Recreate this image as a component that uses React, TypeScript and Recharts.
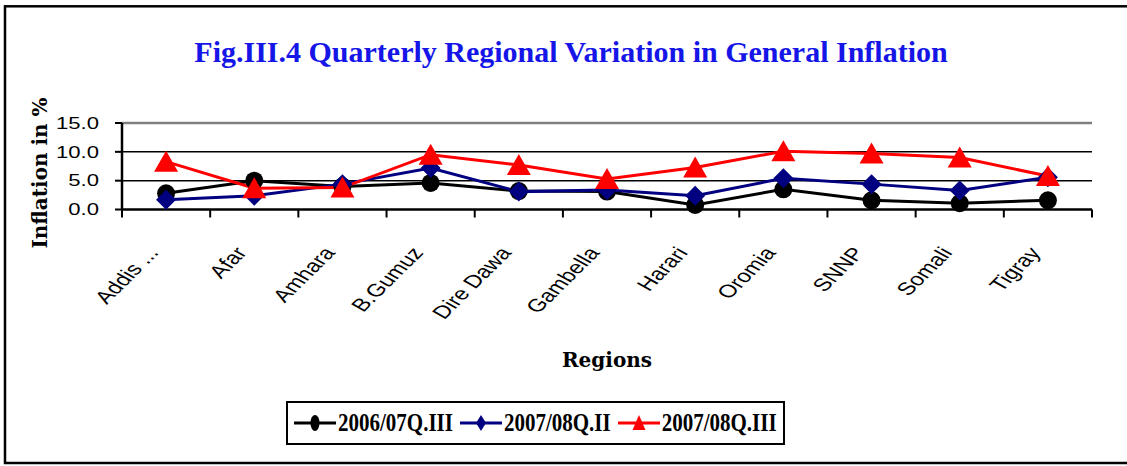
import React from 'react';
import { LineChart, Line, XAxis, YAxis, ReferenceLine, Legend, Customized } from 'recharts';

const regions = ['Addis ...', 'Afar', 'Amhara', 'B.Gumuz', 'Dire Dawa', 'Gambella', 'Harari', 'Oromia', 'SNNP', 'Somali', 'Tigray'];
const q0607III = [2.8, 5.0, 4.0, 4.6, 3.2, 3.1, 0.8, 3.5, 1.6, 1.1, 1.6];
const q0708II = [1.7, 2.4, 4.4, 7.2, 3.1, 3.4, 2.4, 5.4, 4.4, 3.3, 5.6];
const q0708III = [8.3, 3.7, 3.8, 9.5, 7.7, 5.3, 7.3, 10.1, 9.7, 9.0, 5.8];
const seriesNames = ['2006/07Q.III', '2007/08Q.II', '2007/08Q.III'];
const yTicks = [0, 5, 10, 15];
const gridValues = [5, 10];
const title = 'Fig.III.4 Quarterly Regional Variation in General Inflation';
const yLabel = 'Inflation in %';
const xLabel = 'Regions';

const data = regions.map((r, i) => ({ region: r, a: q0607III[i], b: q0708II[i], c: q0708III[i] }));

const W = 1127;
const H = 466;
const M = { top: 123, right: 35, left: 62, bottom: 106.5 };
const Y_AXIS_W = 60;
const X_AXIS_H = 150;
const PLOT_W = W - M.left - Y_AXIS_W - M.right;
const HALF_BAND = PLOT_W / regions.length / 2;

const BLACK = '#000000';
const NAVY = '#000080';
const RED = '#FF0000';

const CircleDot = (p: any) =>
  p.cx == null ? null : <circle key={`c-${p.index}`} cx={p.cx} cy={p.cy} r={9} fill={BLACK} />;
const DiamondDot = (p: any) =>
  p.cx == null ? null : (
    <polygon
      key={`d-${p.index}`}
      points={`${p.cx},${p.cy - 10} ${p.cx + 10},${p.cy} ${p.cx},${p.cy + 10} ${p.cx - 10},${p.cy}`}
      fill={NAVY}
    />
  );
const TriangleDot = (p: any) =>
  p.cx == null ? null : (
    <polygon
      key={`t-${p.index}`}
      points={`${p.cx},${p.cy - 11} ${p.cx + 12},${p.cy + 10} ${p.cx - 12},${p.cy + 10}`}
      fill={RED}
    />
  );

const YTick = (p: any) => {
  const { x, y, payload } = p;
  return (
    <text
      x={x}
      y={y}
      dy="0.36em"
      textAnchor="end"
      fontFamily="'Liberation Sans', Arial, sans-serif"
      fontSize={16}
      fill="#000"
      transform={`translate(${x} ${y}) scale(1.38 1) translate(${-x} ${-y})`}
    >
      {Number(payload.value).toFixed(1)}
    </text>
  );
};

const XTick = (p: any) => {
  const { x, y, payload, index } = p;
  return (
    <g>
      <line x1={x - HALF_BAND} x2={x - HALF_BAND} y1={y} y2={y + 8} stroke="#000" strokeWidth={2} />
      {index === regions.length - 1 && (
        <line x1={x + HALF_BAND} x2={x + HALF_BAND} y1={y} y2={y + 8} stroke="#000" strokeWidth={2} />
      )}
      <text
        transform={`translate(${x - 20} ${y + 36}) scale(1.35 1) rotate(-53)`}
        textAnchor="end"
        dy="0.7em"
        fontSize={18}
        fontFamily="'Liberation Sans', Arial, sans-serif"
        fill="#000"
      >
        {payload.value}
      </text>
    </g>
  );
};

const legendIcons = [
  (cx: number, cy: number) => <ellipse cx={cx} cy={cy} rx={4.5} ry={8} fill={BLACK} />,
  (cx: number, cy: number) => (
    <polygon points={`${cx},${cy - 8} ${cx + 5},${cy} ${cx},${cy + 8} ${cx - 5},${cy}`} fill={NAVY} />
  ),
  (cx: number, cy: number) => (
    <polygon points={`${cx},${cy - 8} ${cx + 6.5},${cy + 7} ${cx - 6.5},${cy + 7}`} fill={RED} />
  ),
];

const LegendContent = (props: any) => {
  const payload = props.payload || [];
  return (
    <div
      style={{
        border: '2px solid #000',
        height: 40,
        display: 'flex',
        alignItems: 'center',
        padding: '0 6px',
        boxSizing: 'content-box',
        background: '#fff',
      }}
    >
      {payload.map((item: any, i: number) => (
        <div key={`leg-${i}`} style={{ display: 'flex', alignItems: 'center', marginRight: i < payload.length - 1 ? 7 : 0 }}>
          <svg width={42} height={20} style={{ marginRight: 2 }}>
            <line x1={0} x2={42} y1={10} y2={10} stroke={item.color} strokeWidth={3} />
            {legendIcons[i % legendIcons.length](21, 10)}
          </svg>
          <span
            style={{
              fontFamily: "'Liberation Serif', 'Times New Roman', serif",
              fontWeight: 'bold',
              fontSize: 21,
              color: '#000',
              whiteSpace: 'nowrap',
              display: 'inline-block',
              transform: 'scale(1, 1.2)',
            }}
          >
            {item.value}
          </span>
        </div>
      ))}
    </div>
  );
};

const Overlay = () => (
  <g>
    <rect x={5} y={6.3} width={1140} height={456.7} fill="none" stroke="#000" strokeWidth={2.5} />
    <text
      x={571}
      y={62}
      textAnchor="middle"
      fontFamily="'Liberation Serif', 'Times New Roman', serif"
      fontWeight="bold"
      fontSize={30}
      fill="#1515e8"
    >
      {title}
    </text>
    <text
      transform="translate(47 173) rotate(-90)"
      textAnchor="middle"
      fontFamily="'DejaVu Serif', serif"
      fontWeight="bold"
      fontSize={20}
      fill="#000"
    >
      {yLabel}
    </text>
    <text
      x={607}
      y={367}
      textAnchor="middle"
      fontFamily="'DejaVu Serif', serif"
      fontWeight="bold"
      fontSize={20}
      fill="#000"
    >
      {xLabel}
    </text>
  </g>
);

export default function App() {
  return (
    <div style={{ position: 'absolute', left: 0, top: 0, width: W, height: H, background: '#fff' }}>
      <LineChart width={W} height={H} data={data} margin={M}>
        <XAxis
          dataKey="region"
          scale="band"
          interval={0}
          height={X_AXIS_H}
          tickSize={0}
          tickMargin={0}
          tickLine={false}
          axisLine={{ stroke: '#000', strokeWidth: 2.5 }}
          tick={<XTick />}
        />
        <YAxis
          yAxisId="left"
          domain={[0, 15]}
          ticks={yTicks}
          width={Y_AXIS_W}
          tickSize={7}
          tickMargin={16}
          axisLine={{ stroke: '#000', strokeWidth: 2.5 }}
          tickLine={{ stroke: '#000', strokeWidth: 2 }}
          tick={<YTick />}
          interval={0}
        />
        <YAxis
          yAxisId="right"
          orientation="right"
          domain={[0, 15]}
          width={0}
          tick={false}
          tickLine={false}
          axisLine={{ stroke: '#808080', strokeWidth: 2.5 }}
        />
        {gridValues.map((v) => (
          <ReferenceLine key={`g-${v}`} yAxisId="left" y={v} stroke="#000" strokeWidth={1.5} />
        ))}
        <ReferenceLine yAxisId="left" y={15} stroke="#808080" strokeWidth={2.5} />
        <Line
          yAxisId="left"
          dataKey="a"
          name={seriesNames[0]}
          stroke={BLACK}
          strokeWidth={3}
          dot={CircleDot}
          activeDot={false}
          isAnimationActive={false}
        />
        <Line
          yAxisId="left"
          dataKey="b"
          name={seriesNames[1]}
          stroke={NAVY}
          strokeWidth={3}
          dot={DiamondDot}
          activeDot={false}
          isAnimationActive={false}
        />
        <Line
          yAxisId="left"
          dataKey="c"
          name={seriesNames[2]}
          stroke={RED}
          strokeWidth={3}
          dot={TriangleDot}
          activeDot={false}
          isAnimationActive={false}
        />
        <Legend
          layout="vertical"
          align="center"
          verticalAlign="middle"
          wrapperStyle={{ left: 286, top: 401, width: 'auto', height: 'auto' }}
          content={<LegendContent />}
        />
        <Customized component={Overlay} />
      </LineChart>
    </div>
  );
}
